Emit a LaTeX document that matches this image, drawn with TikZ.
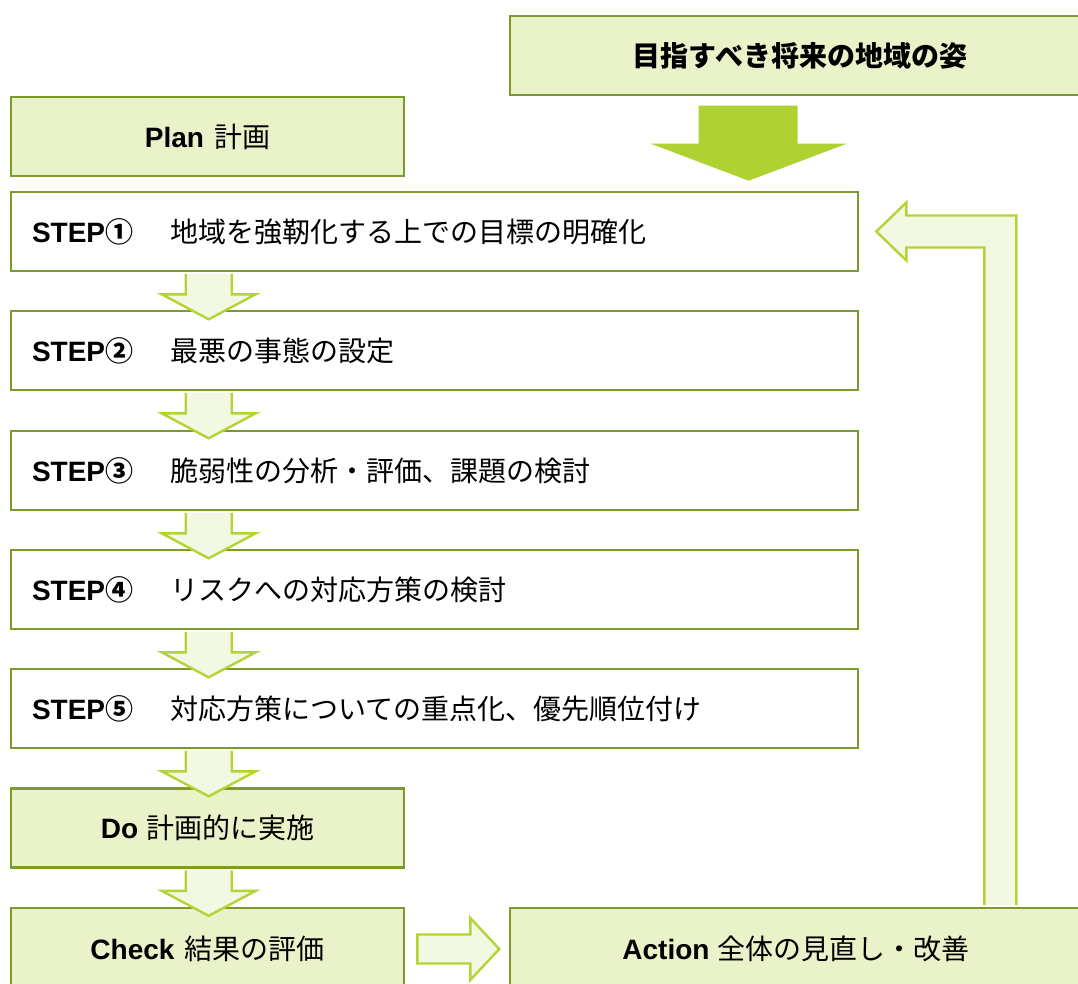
\documentclass[tikz,border=0pt]{standalone}
\usepackage{fontspec}
\setmainfont{Liberation Sans}
\newfontfamily\jp{Noto Sans CJK JP}
\usetikzlibrary{calc}
\definecolor{boxline}{HTML}{7D9A2C}
\definecolor{boxfill}{HTML}{E9F2C8}
\definecolor{arrline}{HTML}{B4D334}
\definecolor{arrfill}{HTML}{F2F8E2}
\definecolor{bigarr}{HTML}{AFD132}
\tikzset{
  basebox/.style={draw=boxline, line width=2.6pt, minimum height=79pt, font=\fontsize{28}{33}\selectfont},
  greenbox/.style={basebox, fill=boxfill},
  stepbox/.style={basebox, fill=white, minimum width=847pt, text width=805pt, inner xsep=21pt, align=left},
  arrfillst/.style={fill=arrfill},
  arrlinest/.style={draw=arrline, line width=2.4pt, line join=miter},
  downarr/.pic={
    \fill[arrfillst] (-23,1.5) -- (-23,22) -- (-47,22) -- (0,47) -- (47,22) -- (23,22) -- (23,1.5) -- cycle;
    \draw[arrlinest] (-23,1.5) -- (-23,22) -- (-47,22) -- (0,47) -- (47,22) -- (23,22) -- (23,1.5);
  }
}
\newcommand{\steplabel}[1]{\makebox[138pt][l]{\textbf{STEP}{\jp\bfseries #1}}}
\begin{document}
\begin{tikzpicture}[x=1pt,y=-1pt]
\useasboundingbox (0,0) rectangle (1078,983);
% boxes
\node[greenbox, minimum width=580pt] (goal) at (800,55.5) {\jp\bfseries 目指すべき将来の地域の姿};
\node[greenbox, minimum width=393pt] (plan) at (207.5,136.5) {\textbf{Plan}\hspace{10pt}{\jp 計画}};
\node[stepbox] (s1) at (434.5,231.5) {\steplabel{①}{\jp 地域を強靭化する上での目標の明確化}};
\node[stepbox] (s2) at (434.5,350.5) {\steplabel{②}{\jp 最悪の事態の設定}};
\node[stepbox] (s3) at (434.5,470.5) {\steplabel{③}{\jp 脆弱性の分析・評価、課題の検討}};
\node[stepbox] (s4) at (434.5,589.5) {\steplabel{④}{\jp リスクへの対応方策の検討}};
\node[stepbox] (s5) at (434.5,708.5) {\steplabel{⑤}{\jp 対応方策についての重点化、優先順位付け}};
\node[greenbox, minimum width=393pt] (do) at (207.5,828) {\textbf{Do}\hspace{8pt}{\jp 計画的に実施}};
\node[greenbox, minimum width=393pt, minimum height=82pt] (check) at (207.5,949) {\textbf{Check}\hspace{10pt}{\jp 結果の評価}};
\node[greenbox, minimum width=572pt, minimum height=82pt] (act) at (796,949) {\textbf{Action}\hspace{8pt}{\jp 全体の見直し・改善}};
% down arrows
\pic at ($(s1.south west)+(199,0)$) {downarr};
\pic at ($(s2.south west)+(199,0)$) {downarr};
\pic at ($(s3.south west)+(199,0)$) {downarr};
\pic at ($(s4.south west)+(199,0)$) {downarr};
\pic at ($(s5.south west)+(199,0)$) {downarr};
\pic at ($(do.south west)+(199,0)$) {downarr};
% big arrow from goal to step 1
\coordinate (bigtip) at ($(s1.north west)+(739,-10)$);
\fill[bigarr] (bigtip) -- ++(-98,-37) -- ++(48,0) -- ++(0,-38) -- ++(99,0) -- ++(0,38) -- ++(49,0) -- cycle;
% check -> action
\coordinate (ra) at ($(check.east)+(12,0)$);
\fill[arrfillst] (ra) ++(0,-14.5) -- ++(53,0) -- ++(0,-16.5) -- ++(29,31) -- ++(-29,31) -- ++(0,-16.5) -- ++(-53,0) -- cycle;
\draw[arrlinest] (ra) ++(0,-14.5) -- ++(53,0) -- ++(0,-16.5) -- ++(29,31) -- ++(-29,31) -- ++(0,-16.5) -- ++(-53,0) -- cycle;
% feedback arrow action -> step 1
\coordinate (fbtip) at ($(s1.east)+(17,0)$);
\coordinate (fbO) at ($(fbtip)+(140,-16)$);
\coordinate (fbI) at ($(fbtip)+(108,16)$);
\fill[arrfillst] ($(fbI |- act.north)+(0,-1.5)$) -- (fbI) -- ($(fbtip)+(30,16)$) -- ($(fbtip)+(30,29)$) -- (fbtip) -- ($(fbtip)+(30,-29)$) -- ($(fbtip)+(30,-16)$) -- (fbO) -- ($(fbO |- act.north)+(0,-1.5)$) -- cycle;
\draw[arrlinest] ($(fbI |- act.north)+(0,-1.5)$) -- (fbI) -- ($(fbtip)+(30,16)$) -- ($(fbtip)+(30,29)$) -- (fbtip) -- ($(fbtip)+(30,-29)$) -- ($(fbtip)+(30,-16)$) -- (fbO) -- ($(fbO |- act.north)+(0,-1.5)$);
\end{tikzpicture}
\end{document}
